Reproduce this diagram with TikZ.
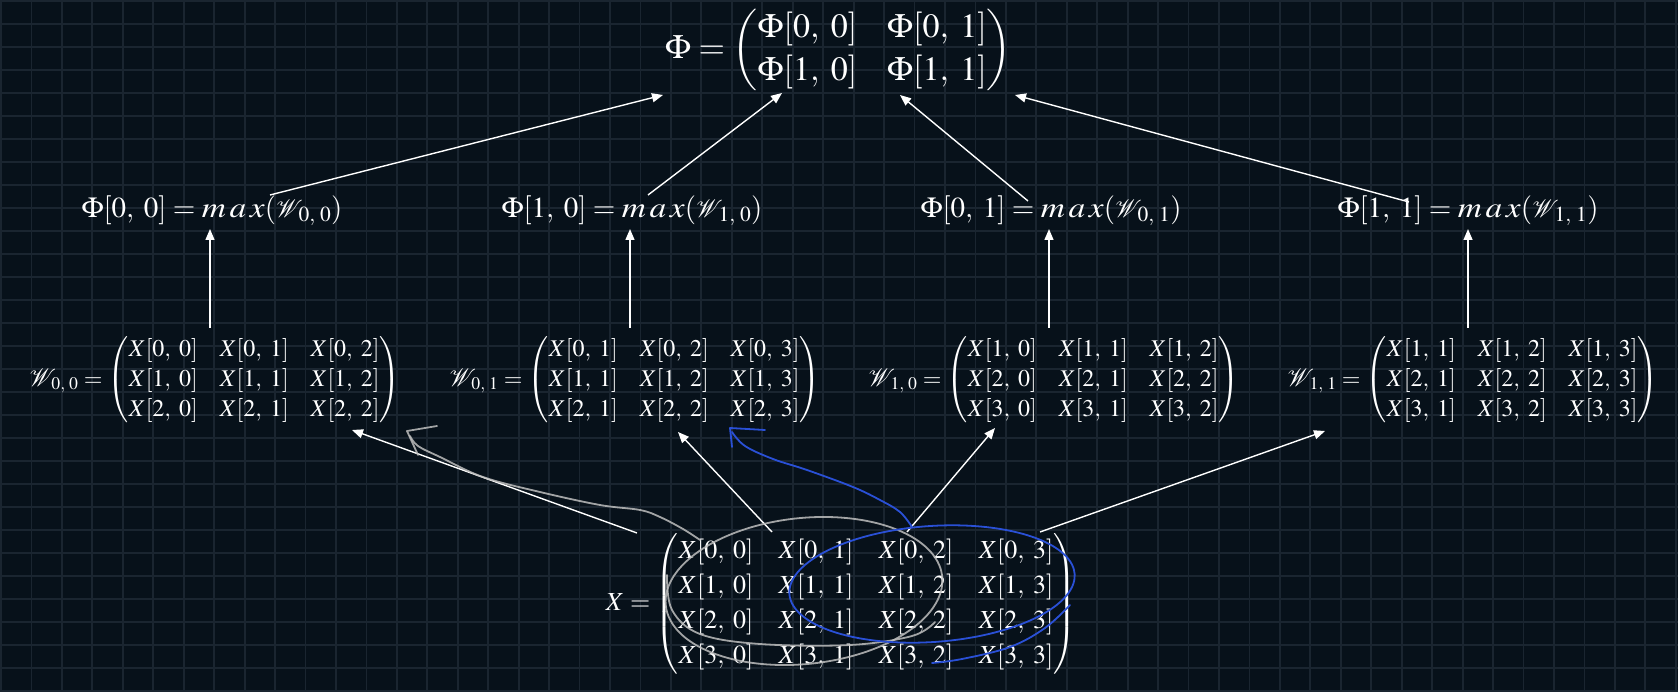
\documentclass[tikz,border=0pt]{standalone}
\usepackage{amsmath}
\usepackage{graphicx}
\usepackage{mathptmx}
\usepackage{mathrsfs}
\usetikzlibrary{arrows.meta}
\definecolor{bg}{HTML}{07111A}
\definecolor{gridc}{HTML}{1A2530}
\definecolor{penblue}{HTML}{2A50D6}
\definecolor{pengray}{HTML}{BEBEBE}
\newcommand{\xe}[2]{X[#1,\;#2]}
\newcommand{\pe}[2]{\Phi[#1,\;#2]}
\newcommand{\Ws}[2]{\mathscr{W}_{\,#1,\;#2}}
\newcommand{\mx}{\mbox{\scalebox{1.15}[1]{$m\,a\,x$}}}
\tikzset{
  txt/.style={text=white, inner sep=0pt},
  phifont/.style={font=\fontsize{34}{43}\selectfont},
  labfont/.style={font=\fontsize{29}{32}\selectfont},
  wfont/.style={font=\fontsize{24}{30}\selectfont},
  xfont/.style={font=\fontsize{26}{35}\selectfont},
  arr/.style={white, line width=1.4pt, -{Triangle[length=11pt,width=9pt]}},
  graypen/.style={pengray, line width=1.8pt, opacity=0.85, line cap=round, line join=round},
  bluepen/.style={penblue, line width=1.8pt, line cap=round, line join=round}
}
\begin{document}
\begin{tikzpicture}[x=1pt,y=-1pt]
\fill[bg] (0,0) rectangle (1678,692);
\useasboundingbox (0,0) rectangle (1678,692);
\foreach \i in {0,...,55} \draw[gridc, line width=1.8pt] ({1+30.45*\i},0) -- ({1+30.45*\i},692);
\foreach \j in {0,...,30} \draw[gridc, line width=1.8pt] (0,{1+23*\j}) -- (1678,{1+23*\j});

% top matrix
\node[txt, phifont] (phi) at (838.5,50) {\setlength{\arraycolsep}{15pt}\delimiterfactor=800 \delimitershortfall=20pt $\Phi = \begin{pmatrix} \pe00 & \pe01\\ \pe10 & \pe11 \end{pmatrix}$};

% labels
\node[txt, labfont] (l1) at (212,211) {$\pe00 = \mx(\Ws00)$};
\node[txt, labfont] (l2) at (632,211) {$\pe10 = \mx(\Ws10)$};
\node[txt, labfont] (l3) at (1051,211) {$\pe01 = \mx(\Ws01)$};
\node[txt, labfont] (l4) at (1468,211) {$\pe11 = \mx(\Ws11)$};

% window matrices
\node[txt, wfont] (w1) at (215,380) {\setlength{\arraycolsep}{11pt}$\Ws00 = \begin{pmatrix} \xe00 & \xe01 & \xe02\\ \xe10 & \xe11 & \xe12\\ \xe20 & \xe21 & \xe22 \end{pmatrix}$};
\node[txt, wfont] (w2) at (635,380) {\setlength{\arraycolsep}{11pt}$\Ws01 = \begin{pmatrix} \xe01 & \xe02 & \xe03\\ \xe11 & \xe12 & \xe13\\ \xe21 & \xe22 & \xe23 \end{pmatrix}$};
\node[txt, wfont] (w3) at (1054,380) {\setlength{\arraycolsep}{11pt}$\Ws10 = \begin{pmatrix} \xe10 & \xe11 & \xe12\\ \xe20 & \xe21 & \xe22\\ \xe30 & \xe31 & \xe32 \end{pmatrix}$};
\node[txt, wfont] (w4) at (1473,380) {\setlength{\arraycolsep}{11pt}$\Ws11 = \begin{pmatrix} \xe11 & \xe12 & \xe13\\ \xe21 & \xe22 & \xe23\\ \xe31 & \xe32 & \xe33 \end{pmatrix}$};

% input matrix
\node[txt, xfont] (x) at (841,604) {\setlength{\arraycolsep}{12.7pt}$X = \begin{pmatrix} \xe00 & \xe01 & \xe02 & \xe03\\ \xe10 & \xe11 & \xe12 & \xe13\\ \xe20 & \xe21 & \xe22 & \xe23\\ \xe30 & \xe31 & \xe32 & \xe33 \end{pmatrix}$};

% arrow end points
\coordinate (a1s) at (270,195); \coordinate (a1t) at (663,95);
\coordinate (a2s) at (648,195); \coordinate (a2t) at (782,93);
\coordinate (a3s) at (1028,201); \coordinate (a3t) at (900,95);
\coordinate (a4s) at (1409,202); \coordinate (a4t) at (1015,95);
\coordinate (b1s) at (637,533); \coordinate (b1t) at (352,430);
\coordinate (b2s) at (772,532); \coordinate (b2t) at (678,432);
\coordinate (b3s) at (907,532); \coordinate (b3t) at (995,428);
\coordinate (b4s) at (1040,532); \coordinate (b4t) at (1325,431);
\coordinate (v1s) at (210,328); \coordinate (v1t) at (210,229);
\coordinate (v2s) at (630,328); \coordinate (v2t) at (630,229);
\coordinate (v3s) at (1049,328); \coordinate (v3t) at (1049,229);
\coordinate (v4s) at (1468,328); \coordinate (v4t) at (1468,229);

\draw[arr] (a1s) -- (a1t);
\draw[arr] (a2s) -- (a2t);
\draw[arr] (a3s) -- (a3t);
\draw[arr] (a4s) -- (a4t);

\foreach \n in {1,2,3,4} \draw[arr] (v\n s) -- (v\n t);

\draw[arr] (b1s) -- (b1t);
\draw[arr] (b2s) -- (b2t);
\draw[arr] (b3s) -- (b3t);
\draw[arr] (b4s) -- (b4t);

% gray hand-drawn loop and arrow
\draw[graypen] plot[smooth, tension=0.6] coordinates {(700,540) (683,529) (660,517) (640,510) (600,505) (540,492) (483,477) (440,457) (418,446) (410,436)};
\draw[graypen] (437,426) -- (407,431) -- (418,455);
\draw[graypen, rotate around={6:(804,591)}] plot[smooth, domain=0:360, samples=60, variable=\t] ({804+139*cos(\t)}, {591+73*sin(\t)});
\draw[graypen] plot[smooth, tension=0.6] coordinates {(667,575) (672,610) (700,634) (760,644) (850,645) (912,636) (935,622)};

% blue hand-drawn loop and arrow
\draw[bluepen] plot[smooth, tension=0.6] coordinates {(912,527) (900,512) (880,500) (853,487) (807,470) (773,459) (745,446) (732,432)};
\draw[bluepen] (765,430) -- (730,428) -- (732,447);
\draw[bluepen, rotate around={4:(932,584)}] plot[smooth, domain=0:360, samples=60, variable=\t] ({932+143*cos(\t)}, {584+58*sin(\t)});
\draw[bluepen] plot[smooth, tension=0.6] coordinates {(1070,605) (1045,628) (1010,647) (962,659) (932,663)};
\end{tikzpicture}
\end{document}
